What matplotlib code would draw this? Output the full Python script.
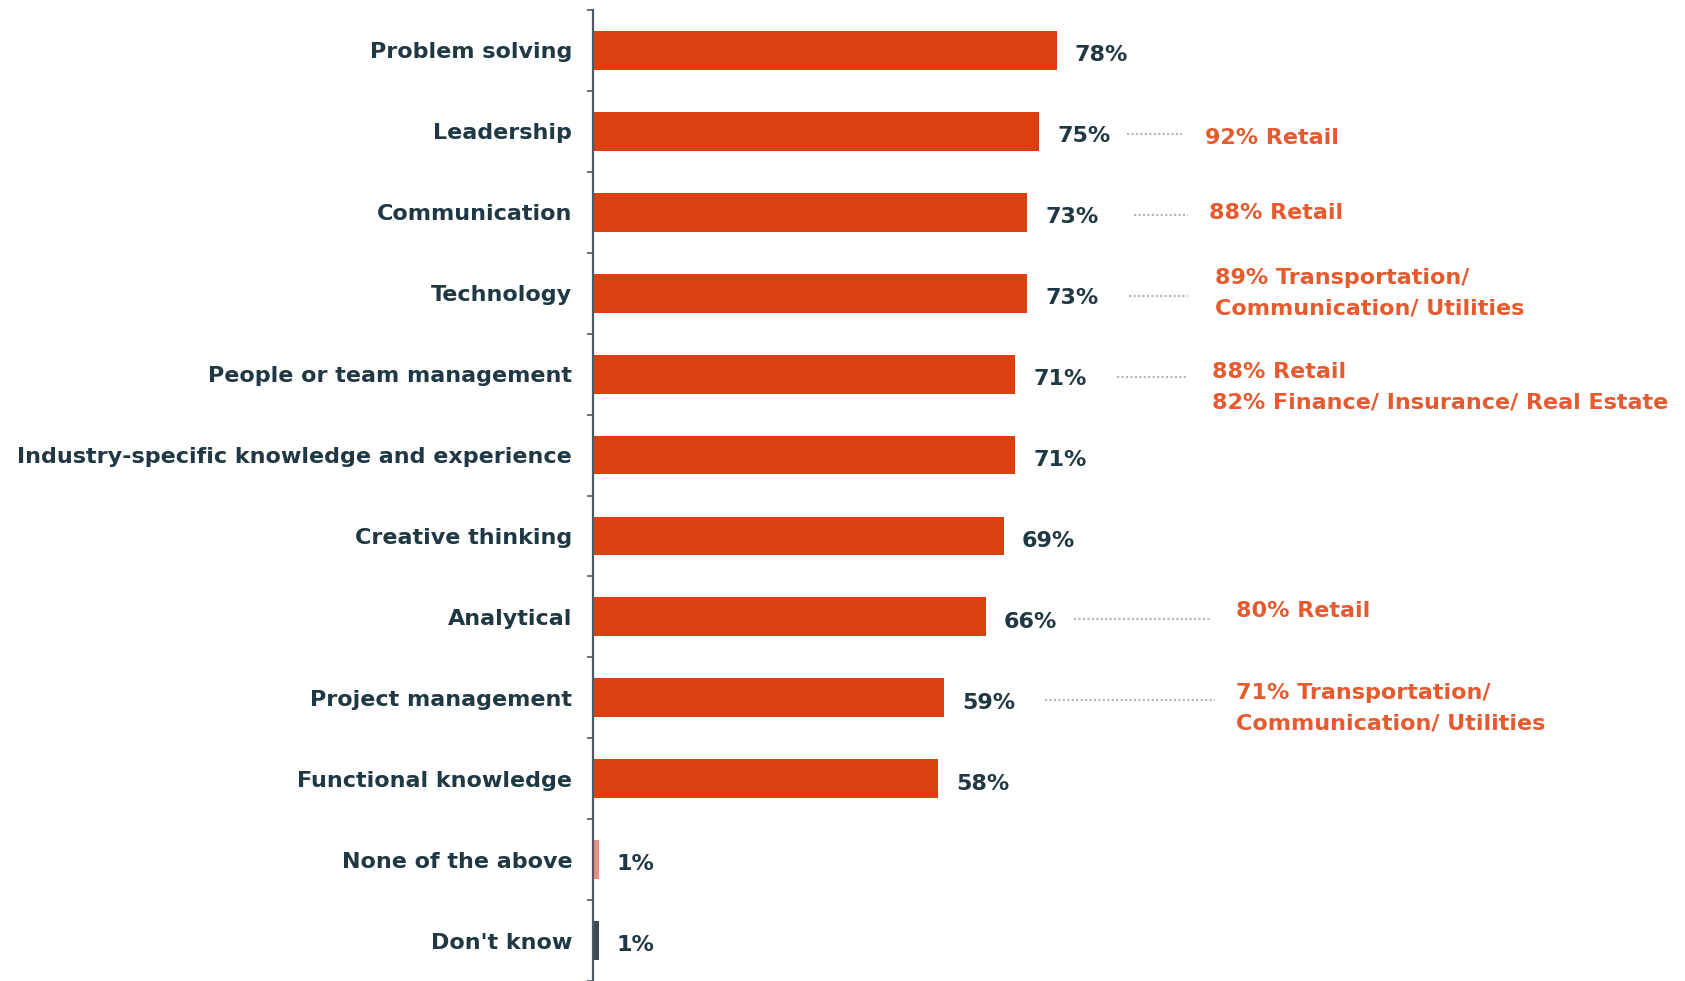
import matplotlib
matplotlib.use("Agg")
import matplotlib.pyplot as plt
import numpy as np

categories = ["Problem solving", "Leadership", "Communication", "Technology",
              "People or team management", "Industry-specific knowledge and experience",
              "Creative thinking", "Analytical", "Project management",
              "Functional knowledge", "None of the above", "Don't know"]
values = [78, 75, 73, 73, 71, 71, 69, 66, 59, 58, 1, 1]
value_labels = ["78%", "75%", "73%", "73%", "71%", "71%", "69%", "66%", "59%", "58%", "1%", "1%"]

ann_rows = [1, 2, 3, 4, 7, 8]
ann_texts = ["92% Retail",
             "88% Retail",
             "89% Transportation/\nCommunication/ Utilities",
             "88% Retail\n82% Finance/ Insurance/ Real Estate",
             "80% Retail",
             "71% Transportation/\nCommunication/ Utilities"]

BAR = "#DA4010"
DARK = "#1F3844"
ANN = "#E55A2E"
SPINE = "#4D5A63"
FONT = "DejaVu Sans"
FS = 16

fig = plt.figure(figsize=(16.85, 9.81), dpi=100)
ax = fig.add_axes([593 / 1685, 0.0, 1 - 593 / 1685, 1 - 10 / 981])

y = np.arange(len(categories))
bar_colors = [BAR] * (len(categories) - 2) + ["#E98C82", "#3E4C56"]
ax.barh(y, values, height=0.48, color=bar_colors, zorder=2)

px_per_pct = 5.95
ax.set_xlim(0, 1092 / px_per_pct)
ax.set_ylim(11.41, -0.5)

for yi, v, lab in zip(y, values, value_labels):
    ax.text(v + 3.0, yi + 0.06, lab, va="center", ha="left", fontsize=FS,
            fontweight="bold", color=DARK, family=FONT)

# annotations with dotted leaders
line_start = {1: 14.8, 2: 17.9, 3: 17.0, 4: 17.0, 7: 14.8, 8: 17.0}
line_end = {1: 99.0, 2: 100.0, 3: 100.0, 4: 100.0, 7: 104.0, 8: 104.6}
text_x = {1: 102.9, 2: 103.5, 3: 104.5, 4: 104.0, 7: 108.0, 8: 108.0}
text_dy = {1: 0.08, 2: 0.01, 3: 0.0, 4: 0.16, 7: -0.07, 8: 0.13}
for r, t in zip(ann_rows, ann_texts):
    v = values[r]
    ax.plot([v + line_start[r], line_end[r]], [r + 0.03, r + 0.03], linestyle=(0, (1, 1)),
            color="#B8B8B8", linewidth=1.6, zorder=1)
    ax.text(text_x[r], r + text_dy[r], t, va="center", ha="left", fontsize=FS,
            fontweight="bold", color=ANN, family=FONT, linespacing=1.62)

ax.set_yticks(y)
ax.set_yticklabels(categories, fontsize=FS, fontweight="bold", color=DARK, family=FONT)
ax.tick_params(axis="y", which="major", length=0, pad=15)
ax.set_yticks(np.arange(-0.5, len(categories) + 0.5, 1.0), minor=True)
ax.tick_params(axis="y", which="minor", length=4, width=1.2, color=SPINE, direction="out")
ax.set_xticks([])

for s in ["top", "right", "bottom"]:
    ax.spines[s].set_visible(False)
ax.spines["left"].set_color(SPINE)
ax.spines["left"].set_linewidth(1.6)

fig.savefig("out.png", dpi=100, facecolor="white")
